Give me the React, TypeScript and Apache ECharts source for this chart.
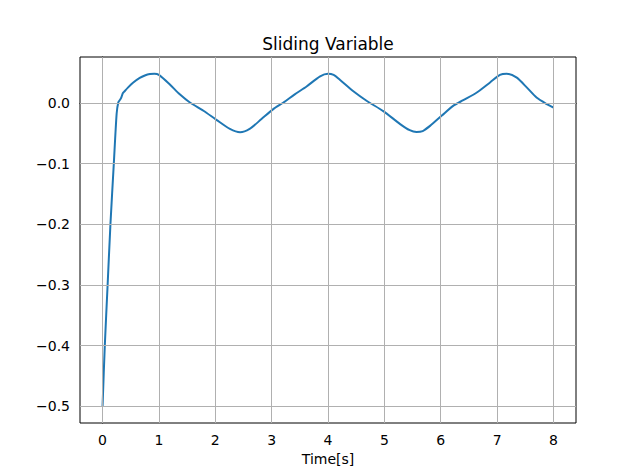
import React, { useEffect, useRef } from "react";
import * as echarts from "echarts";

const timeValues = [
  0, 0.04, 0.09, 0.14, 0.2, 0.25, 0.28, 0.31, 0.33, 0.36, 0.38, 0.45, 0.54, 0.66, 0.75, 0.84, 0.92, 1.0,
  1.19, 1.37, 1.55, 1.79, 2.02, 2.26, 2.44, 2.61, 2.82, 3.03, 3.21, 3.41, 3.62, 3.86,
  4.0, 4.1, 4.21, 4.45, 4.69, 4.98, 5.28, 5.45, 5.57, 5.68, 5.81, 6.02, 6.22, 6.4, 6.64, 6.88, 7.05,
  7.17, 7.35, 7.53, 7.7, 7.88, 8.0,
];
const slidingValues = [
  -0.5, -0.4, -0.3, -0.2, -0.1, -0.018, 0.001, 0.005, 0.008, 0.016, 0.018, 0.025, 0.033, 0.041, 0.045,
  0.0475, 0.048, 0.046, 0.0306, 0.014, 0.0005, -0.013, -0.028, -0.043, -0.0485, -0.043, -0.0267,
  -0.0103, 0.0005, 0.014, 0.027, 0.0437, 0.048, 0.046, 0.038, 0.019, 0.003, -0.0136, -0.035, -0.045,
  -0.048, -0.0465, -0.038, -0.021, -0.005, 0.0044, 0.017, 0.034, 0.046, 0.048, 0.0415, 0.025, 0.0087,
  -0.002, -0.0077,
];
const xTicks = [0, 1, 2, 3, 4, 5, 6, 7, 8];
const yTicks = [-0.5, -0.4, -0.3, -0.2, -0.1, 0.0];

const FONT = "DejaVu Sans";

export default function App() {
  const ref = useRef<HTMLDivElement>(null);
  useEffect(() => {
    if (!ref.current) return;
    const chart = echarts.init(ref.current, null, { renderer: "svg" });
    const data = timeValues.map((t, i) => [t, slidingValues[i]]);
    chart.setOption({
      animation: false,
      backgroundColor: "#ffffff",
      textStyle: { fontFamily: FONT },
      grid: {
        left: 80,
        top: 57,
        width: 496,
        height: 366,
        show: true,
        borderColor: "#000000",
        borderWidth: 1,
        backgroundColor: "transparent",
      },
      graphic: [
        {
          type: "text",
          x: 328,
          y: 44,
          style: {
            text: "Sliding Variable",
            fontFamily: FONT,
            fontSize: 17,
            fill: "#000000",
            textAlign: "center",
            textVerticalAlign: "middle",
          },
        },
      ],
      xAxis: {
        type: "value",
        min: -0.4,
        max: 8.4,
        name: "Time[s]",
        nameLocation: "middle",
        nameGap: 29,
        nameTextStyle: { fontFamily: FONT, fontSize: 14, color: "#000" },
        axisLine: { show: true, lineStyle: { color: "#000", width: 1 } },
        axisTick: {
          show: true,
          length: 5,
          customValues: xTicks,
          lineStyle: { color: "#000", width: 1 },
        },
        axisLabel: {
          show: true,
          margin: 10,
          customValues: xTicks,
          fontFamily: FONT,
          fontSize: 14,
          color: "#000",
          formatter: (v: number) => String(v),
        },
        splitLine: { show: false },
      },
      yAxis: {
        type: "value",
        min: -0.5274,
        max: 0.0755,
        axisLine: { show: true, lineStyle: { color: "#000", width: 1 } },
        axisTick: {
          show: true,
          length: 5,
          customValues: yTicks,
          lineStyle: { color: "#000", width: 1 },
        },
        axisLabel: {
          show: true,
          margin: 10,
          customValues: yTicks,
          fontFamily: FONT,
          fontSize: 14,
          color: "#000",
          formatter: (v: number) => v.toFixed(1).replace("-", "\u2212"),
        },
        splitLine: { show: false },
      },
      series: [
        {
          type: "line",
          data: [],
          z: 1,
          silent: true,
          markLine: {
            silent: true,
            symbol: "none",
            animation: false,
            label: { show: false },
            lineStyle: { color: "#b0b0b0", width: 1, type: "solid" },
            data: [
              ...xTicks.map((x) => ({ xAxis: x })),
              ...yTicks.map((y) => ({ yAxis: y })),
            ],
          },
        },
        {
          type: "line",
          data,
          z: 3,
          showSymbol: false,
          smooth: 0.25,
          lineStyle: { color: "#1f77b4", width: 2 },
          itemStyle: { color: "#1f77b4" },
        },
      ],
    });
    return () => chart.dispose();
  }, []);
  return (
    <div
      ref={ref}
      style={{ position: "fixed", left: 0, top: 0, width: 640, height: 476 }}
    />
  );
}
